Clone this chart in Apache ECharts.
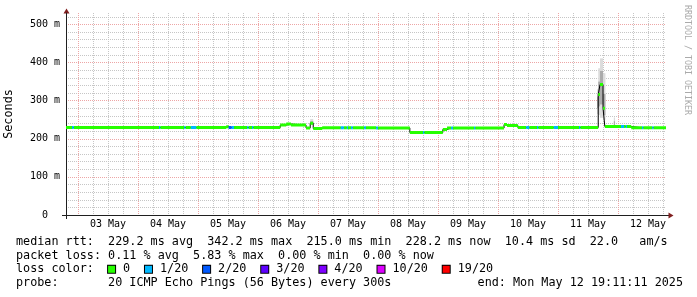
<!DOCTYPE html>
<html><head><meta charset="utf-8">
<script src="https://cdn.jsdelivr.net/npm/echarts@6/dist/echarts.min.js"></script>
<style>html,body{margin:0;padding:0;background:#fff;}#c{width:697px;height:297px;}</style>
</head><body><div id="c"></div>
<script>
// ---- time range (day-of-month, May 2025) ----
const DAY_START = 2 + (19 + 11 / 60 + 11 / 3600) / 24; // Mon May 2 19:11:11
const DAY_END = DAY_START + 10;                         // Mon May 12 19:11:11

// ---- x tick labels (centred at noon) ----
const dayLabelPos = [3.5, 4.5, 5.5, 6.5, 7.5, 8.5, 9.5, 10.5, 11.5, 12.5];
const dayLabels = ['03 May', '04 May', '05 May', '06 May', '07 May', '08 May', '09 May', '10 May', '11 May', '12 May'];

// ---- median rtt (ms) step segments: start day, median, lost pings of 20 ----
const segStart = [2.80, 2.90, 2.93, 4.35, 4.37, 4.77, 4.79, 4.88, 4.97, 5.47, 5.51, 5.56, 5.60, 5.82, 5.84, 5.90, 5.92,
  6.37, 6.47, 6.55, 6.80, 6.87, 6.92, 7.07, 7.38, 7.43, 7.48, 7.50, 7.55, 7.58, 7.77, 7.80, 7.97, 8.00,
  8.53, 8.75, 8.77, 9.08, 9.15, 9.22, 9.25, 9.60, 9.62, 10.10, 10.15, 10.33, 10.47, 10.52, 10.65, 10.67,
  10.93, 11.00, 11.35, 11.37, 11.67, 11.70, 11.75, 11.78, 12.05, 12.10, 12.13, 12.15, 12.22, 12.40, 12.42, 12.57, 12.59];
const segMedian = [229.6, 229.6, 229.6, 229.6, 229.6, 229.6, 229.6, 229.6, 229.6, 231.8, 229.6, 229.6, 229.6, 229.6, 229.6, 229.6, 229.6,
  235.9, 238.5, 235.9, 228.5, 241.0, 227.0, 229.2, 229.2, 229.2, 229.2, 229.2, 229.2, 229.2, 229.2, 229.2, 228.4, 228.4,
  216.5, 216.5, 216.5, 224.4, 228.2, 228.2, 228.2, 228.2, 228.2, 237.4, 235.0, 229.6, 229.6, 229.6, 229.6, 229.6,
  229.6, 229.6, 229.6, 229.6, 316.0, 342.2, 280.0, 232.2, 232.2, 232.2, 232.2, 232.2, 228.8, 228.8, 228.8, 228.8, 228.8];
const segLoss = [0, 1, 0, 1, 0, 1, 0, 1, 0, 0, 2, 1, 0, 1, 0, 1, 0,
  0, 0, 0, 0, 0, 0, 0, 1, 0, 1, 0, 1, 0, 1, 0, 1, 0,
  0, 1, 0, 0, 0, 1, 0, 1, 0, 0, 0, 0, 1, 0, 1, 0,
  1, 0, 1, 0, 0, 0, 0, 0, 1, 0, 1, 0, 0, 1, 0, 1, 0];

// ---- smoke (ping spread) ----
const smokeStart = [6.87, 11.65, 11.67, 11.70, 11.75, 11.93];
const smokeEnd = [6.92, 11.67, 11.70, 11.75, 11.79, 11.95];
const smokeOuterLow = [236, 265, 262, 255, 250, 232];
const smokeOuterHigh = [252, 330, 385, 411, 372, 256];
const smokeInnerLow = [238, 280, 285, 290, 262, 236];
const smokeInnerHigh = [246, 310, 350, 378, 318, 246];

// ---- loss legend ----
const lossLevels = [0, 1, 2, 3, 4, 10, 19];
const lossLabels = ['0', '1/20', '2/20', '3/20', '4/20', '10/20', '19/20'];
const lossColors = ['#26ff00', '#00b8ff', '#0059ff', '#5e00ff', '#7e00ff', '#dd00ff', '#ff0000'];

// ---- statistics ----
const rttStats = [229.2, 342.2, 215.0, 228.2, 10.4]; // avg max min now sd
const amsValue = 22.0;
const lossStats = [0.11, 5.83, 0.00, 0.00]; // avg max min now
const probeText = '20 ICMP Echo Pings (56 Bytes) every 300s';
const endText = 'end: Mon May 12 19:11:11 2025';

// ---------------------------------------------------------------
const MONO = "'DejaVu Sans Mono', monospace";
const LEG_FS = 11.77;

const segEnd = segStart.map((t, i) => i + 1 < segStart.length ? segStart[i + 1] : DAY_END);

const blackData = segStart.map((t, i) => [t, segMedian[i]]).concat([[DAY_END, segMedian[segMedian.length - 1]]]);

const lossSeries = lossLevels.map((lv, k) => {
  const data = [];
  segStart.forEach((t, i) => {
    if (segLoss[i] === lv) {
      data.push([t, segMedian[i]], [segEnd[i], segMedian[i]], [segEnd[i], null]);
    }
  });
  return {
    type: 'line', name: lossLabels[k], data, symbol: 'none', showSymbol: false, connectNulls: false,
    lineStyle: { color: lossColors[k], width: 3, cap: 'butt' }, silent: true, z: 4
  };
});

function smokeSeries(lows, highs, fill) {
  return {
    type: 'custom', silent: true, z: 2,
    encode: { x: [0, 1], y: [2, 3] },
    data: smokeStart.map((t, i) => [t, smokeEnd[i], lows[i], highs[i]]),
    renderItem: (params, api) => {
      const p0 = api.coord([api.value(0), api.value(3)]);
      const p1 = api.coord([api.value(1), api.value(2)]);
      return { type: 'rect', shape: { x: p0[0], y: p0[1], width: p1[0] - p0[0], height: p1[1] - p0[1] }, style: { fill } };
    }
  };
}

const f1 = v => v.toFixed(1);
const f2 = v => v.toFixed(2);
const line1 = 'median rtt:  ' + f1(rttStats[0]) + ' ms avg  ' + f1(rttStats[1]) + ' ms max  ' + f1(rttStats[2]) +
  ' ms min  ' + f1(rttStats[3]) + ' ms now  ' + f1(rttStats[4]) + ' ms sd  ' + f1(amsValue) + '   am/s';
const line2 = 'packet loss: ' + f2(lossStats[0]) + ' % avg  ' + f2(lossStats[1]) + ' % max  ' + f2(lossStats[2]) +
  ' % min  ' + f2(lossStats[3]) + ' % now';
const line4 = 'probe:       ' + probeText;

const rich = { ga: { width: 8, fontFamily: MONO, fontSize: LEG_FS }, gb: { width: 14.8, fontFamily: MONO, fontSize: LEG_FS } };
let line3 = 'loss color:  ';
lossLabels.forEach((lab, k) => {
  rich['s' + k] = { width: 7, height: 7, backgroundColor: lossColors[k], borderColor: '#000', borderWidth: 1 };
  line3 += '{s' + k + '| }{ga| }' + lab + (k < lossLabels.length - 1 ? '{gb| }' : '');
});

const legendY = [241.7, 255.5, 269.3, 283.3];
const txt = (x, y, text, extra) => ({
  type: 'text', x, y, silent: true,
  style: Object.assign({ text, fill: '#000', font: LEG_FS + 'px ' + MONO, textAlign: 'left', textVerticalAlign: 'middle' }, extra || {})
});

const gridCol = '#c6c6c6';
const mgridCol = '#eda6a6';
const axisCol = '#1f1f1f';
const arrowCol = '#801f1f';

const option = {
  animation: false,
  backgroundColor: '#ffffff',
  grid: { left: 66, right: 31, top: 13, bottom: 82, containLabel: false, outerBoundsMode: 'none' },
  xAxis: {
    type: 'value', min: DAY_START, max: DAY_END, splitNumber: 10,
    axisLine: { show: true, onZero: false, lineStyle: { color: axisCol, width: 1 } },
    axisTick: { show: false },
    axisLabel: {
      customValues: dayLabelPos,
      formatter: v => { const i = dayLabelPos.findIndex(p => Math.abs(p - v) < 1e-6); return i >= 0 ? dayLabels[i] : ''; },
      margin: 4, fontFamily: MONO, fontSize: 10, color: '#000'
    },
    splitLine: { show: true, showMinLine: false, showMaxLine: false, lineStyle: { color: mgridCol, width: 1, type: [1, 1] } },
    minorTick: { show: false, splitNumber: 4 },
    minorSplitLine: { show: true, lineStyle: { color: gridCol, width: 1, type: [1, 1] } }
  },
  yAxis: {
    type: 'value', min: 0, max: 530, splitNumber: 5,
    name: 'Seconds', nameLocation: 'middle', nameGap: 51,
    nameTextStyle: { fontFamily: MONO, fontSize: LEG_FS, color: '#000' },
    axisLine: { show: true, onZero: false, lineStyle: { color: axisCol, width: 1 } },
    axisTick: { show: false },
    axisLabel: { showMaxLabel: false, margin: 6, fontFamily: MONO, fontSize: 10, color: '#000',
      formatter: v => v === 0 ? '0  ' : v + ' m' },
    splitLine: { show: true, showMinLine: false, showMaxLine: false, lineStyle: { color: mgridCol, width: 1, type: [1, 1] } },
    minorTick: { show: false, splitNumber: 5 },
    minorSplitLine: { show: true, lineStyle: { color: gridCol, width: 1, type: [1, 1] } }
  },
  series: [
    smokeSeries(smokeOuterLow, smokeOuterHigh, '#dcdcdc'),
    smokeSeries(smokeInnerLow, smokeInnerHigh, '#ababab'),
    { type: 'line', step: 'end', data: blackData, symbol: 'none', showSymbol: false, silent: true, z: 3,
      lineStyle: { color: '#000', width: 1 } }
  ].concat(lossSeries),
  graphic: [
    // axis extensions and arrows
    { type: 'line', silent: true, shape: { x1: 66.5, y1: 219, x2: 66.5, y2: 10 }, style: { stroke: axisCol, lineWidth: 1 } },
    { type: 'line', silent: true, shape: { x1: 62, y1: 215.5, x2: 669, y2: 215.5 }, style: { stroke: axisCol, lineWidth: 1 } },
    { type: 'polygon', silent: true, shape: { points: [[63.5, 13.5], [69.5, 13.5], [66.5, 8.5]] }, style: { fill: arrowCol } },
    { type: 'polygon', silent: true, shape: { points: [[668.5, 212.5], [668.5, 218.5], [673.5, 215.5]] }, style: { fill: arrowCol } },
    // watermark
    { type: 'text', silent: true, x: 687, y: 5, rotation: -Math.PI / 2,
      style: { text: 'RRDTOOL / TOBI OETIKER', fill: '#aaaaaa', font: '8.3px ' + MONO, textAlign: 'left', textVerticalAlign: 'middle' } },
    // legend block
    txt(16, legendY[0], line1),
    txt(16, legendY[1], line2),
    txt(16, legendY[2], line3, { rich }),
    txt(16, legendY[3], line4),
    txt(683, legendY[3], endText, { textAlign: 'right' })
  ]
};

const chart = echarts.init(document.getElementById('c'), null, { renderer: 'canvas', width: 697, height: 297 });
chart.setOption(option);
</script>
</body></html>
